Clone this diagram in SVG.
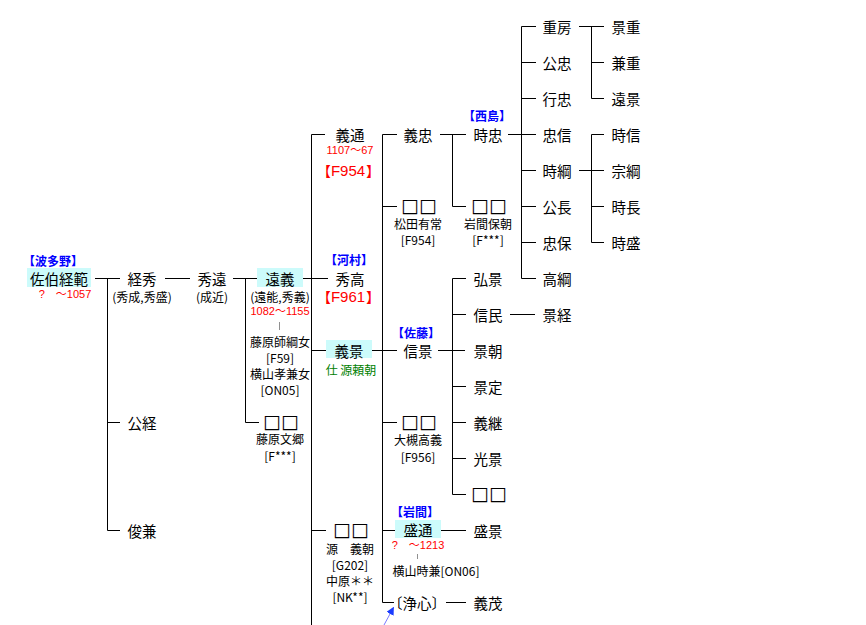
<svg xmlns="http://www.w3.org/2000/svg" width="866" height="625" viewBox="0 0 866 625">
<defs>
<style>
text{font-family:"Noto Sans CJK JP","DejaVu Sans",sans-serif;text-anchor:middle;dominant-baseline:central;fill:#000}
.n{font-size:14.5px}
.sq{font-size:19px;font-family:"DejaVu Sans",sans-serif}
.s{font-size:12px}
.y{font-size:11px;fill:#ff0000;font-family:"Liberation Sans","Noto Sans CJK JP",sans-serif}
.r{font-size:14px;fill:#ff0000}
.rl{font-size:15px;fill:#ff0000;font-family:"Liberation Sans",sans-serif}
.b{font-size:12px;fill:#0000ff;font-weight:bold}
.g{font-size:12px;fill:#008000}
.hl{fill:#ccfbfb}
.tick{stroke:#909090;stroke-width:1}
#conn path{fill:none;stroke:#000;stroke-width:1}
</style>
<marker id="ah" viewBox="0 0 10 10" refX="9" refY="5" markerWidth="8" markerHeight="8" markerUnits="userSpaceOnUse" orient="auto">
<path d="M0,0 L10,5 L0,10 Z" fill="#1a3cff"/>
</marker>
</defs>
<rect width="866" height="625" fill="#fff"/>
<g id="conn">
<path d="M95,278.5H120M107.5,278.5V530.5M107.5,422.5H120M107.5,530.5H120"/>
<path d="M165,278.5H190"/>
<path d="M233,278.5H257M245.5,278.5V422.5H259"/>
<path d="M303,278.5H328M311.5,134.5V625M311.5,134.5H325M311.5,350.5H326M311.5,530.5H326"/>
<path d="M382.5,134.5V602.5M382.5,134.5H397M382.5,206.5H397M372,350.5H397M382.5,422.5H397M382.5,530.5H395M382.5,602.5H394"/>
<path d="M440,134.5H466M452.5,134.5V206.5H466"/>
<path d="M438,350.5H465M452.5,278.5V494.5M452.5,278.5H466M452.5,314.5H466M452.5,386.5H466M452.5,422.5H466M452.5,458.5H466M452.5,494.5H466"/>
<path d="M441,530.5H466M446,602.5H466"/>
<path d="M510,314.5H535"/>
<path d="M508,134.5H536M521.5,26.5V278.5M521.5,26.5H536M521.5,62.5H536M521.5,98.5H536M521.5,170.5H536M521.5,206.5H536M521.5,242.5H536M521.5,278.5H536"/>
<path d="M579,26.5H604M591.5,26.5V98.5M591.5,62.5H604M591.5,98.5H604"/>
<path d="M579,170.5H604M591.5,134.5V242.5M591.5,134.5H604M591.5,206.5H604M591.5,242.5H604"/>
<path d="M384,625L393.5,607.5" style="stroke:#7a7aff" marker-end="url(#ah)"/>
</g>
<g id="n-tsunenori">
<rect class="hl" x="27" y="268" width="64" height="19"/>
<text class="b" x="53" y="260">【波多野】</text>
<text class="n" x="59" y="278">佐伯経範</text>
<text class="y" x="65" y="294">?　～1057</text>
</g>
<g id="n-tsunehide">
<text class="n" x="142" y="278">経秀</text>
<text class="s" x="142" y="296">(秀成,秀盛)</text>
</g>
<g id="n-hidetoo">
<text class="n" x="212" y="278">秀遠</text>
<text class="s" x="212" y="296">(成近)</text>
</g>
<g id="n-tooyoshi">
<rect class="hl" x="257" y="268" width="46" height="19"/>
<text class="n" x="280" y="278">遠義</text>
<text class="s" x="280" y="296">(遠能,秀義)</text>
<text class="y" x="280" y="311">1082～1155</text>
<line class="tick" x1="279.5" y1="322" x2="279.5" y2="330"/>
<text class="s" x="280" y="341">藤原師綱女</text>
<text class="s" x="280" y="357">[F59]</text>
<text class="s" x="280" y="373">横山孝兼女</text>
<text class="s" x="280" y="389">[ON05]</text>
</g>
<g id="n-unk-fujiwara">
<text class="sq" x="281" y="421">□□</text>
<text class="s" x="280" y="438">藤原文郷</text>
<text class="s" x="280" y="455">[F***]</text>
</g>
<g id="n-kimitsune"><text class="n" x="142" y="422">公経</text></g>
<g id="n-toshikane"><text class="n" x="142" y="530">俊兼</text></g>
<g id="n-yoshimichi">
<text class="n" x="350" y="134">義通</text>
<text class="y" x="350" y="150">1107～67</text>
<text class="r" x="331" y="170" style="text-anchor:end">【</text>
<text class="rl" x="348" y="170">F954</text>
<text class="r" x="366" y="170" style="text-anchor:start">】</text>
</g>
<g id="n-hidetaka">
<text class="b" x="349" y="259">【河村】</text>
<text class="n" x="350" y="278">秀高</text>
<text class="r" x="331" y="296" style="text-anchor:end">【</text>
<text class="rl" x="348" y="296">F961</text>
<text class="r" x="366" y="296" style="text-anchor:start">】</text>
</g>
<g id="n-yoshikage">
<rect class="hl" x="326" y="340" width="46" height="18"/>
<text class="n" x="349" y="350">義景</text>
<text class="g" x="351" y="369">仕 源頼朝</text>
</g>
<g id="n-unk-yoshitomo">
<text class="sq" x="351" y="529">□□</text>
<text class="s" x="350" y="548">源　義朝</text>
<text class="s" x="350" y="564">[G202]</text>
<text class="s" x="350" y="580">中原＊＊</text>
<text class="s" x="350" y="596">[NK**]</text>
</g>
<g id="n-yoshitada"><text class="n" x="418" y="134">義忠</text></g>
<g id="n-unk-matsuda">
<text class="sq" x="419" y="205">□□</text>
<text class="s" x="418" y="223">松田有常</text>
<text class="s" x="418" y="239">[F954]</text>
</g>
<g id="n-nobukage">
<text class="b" x="416" y="332">【佐藤】</text>
<text class="n" x="418" y="350">信景</text>
</g>
<g id="n-unk-ootsuki">
<text class="sq" x="419" y="421">□□</text>
<text class="s" x="418" y="439">大槻高義</text>
<text class="s" x="418" y="456">[F956]</text>
</g>
<g id="n-moritoo">
<text class="b" x="415" y="511">【岩間】</text>
<rect class="hl" x="395" y="520" width="46" height="18"/>
<text class="n" x="418" y="529">盛通</text>
<text class="y" x="418" y="545">?　～1213</text>
<line class="tick" x1="417.5" y1="554" x2="417.5" y2="559"/>
<text class="s" x="436" y="570">横山時兼[ON06]</text>
</g>
<g id="n-joshin"><text class="n" x="417" y="602">〔浄心〕</text></g>
<g id="n-tokitada">
<text class="b" x="487" y="115">【西島】</text>
<text class="n" x="488" y="134">時忠</text>
</g>
<g id="n-unk-iwama">
<text class="sq" x="489" y="205">□□</text>
<text class="s" x="488" y="223">岩間保朝</text>
<text class="s" x="488" y="239">[F***]</text>
</g>
<g id="n-hirokage"><text class="n" x="488" y="278">弘景</text></g>
<g id="n-nobutami"><text class="n" x="488" y="314">信民</text></g>
<g id="n-kagetomo"><text class="n" x="488" y="350">景朝</text></g>
<g id="n-kagesada"><text class="n" x="488" y="386">景定</text></g>
<g id="n-yoshitsugu"><text class="n" x="488" y="422">義継</text></g>
<g id="n-mitsukage"><text class="n" x="488" y="458">光景</text></g>
<g id="n-unk-sato"><text class="sq" x="489" y="493">□□</text></g>
<g id="n-morikage"><text class="n" x="488" y="530">盛景</text></g>
<g id="n-yoshishige"><text class="n" x="488" y="602">義茂</text></g>
<g id="n-kagetsune"><text class="n" x="557" y="314">景経</text></g>
<g id="n-shigefusa"><text class="n" x="557" y="26">重房</text></g>
<g id="n-kimitada"><text class="n" x="557" y="62">公忠</text></g>
<g id="n-yukitada"><text class="n" x="557" y="98">行忠</text></g>
<g id="n-tadanobu"><text class="n" x="557" y="134">忠信</text></g>
<g id="n-tokitsuna"><text class="n" x="557" y="170">時綱</text></g>
<g id="n-kiminaga"><text class="n" x="557" y="206">公長</text></g>
<g id="n-tadayasu"><text class="n" x="557" y="242">忠保</text></g>
<g id="n-takatsuna"><text class="n" x="557" y="278">高綱</text></g>
<g id="n-kageshige"><text class="n" x="626" y="26">景重</text></g>
<g id="n-kaneshige"><text class="n" x="626" y="62">兼重</text></g>
<g id="n-tookage"><text class="n" x="626" y="98">遠景</text></g>
<g id="n-tokinobu"><text class="n" x="626" y="134">時信</text></g>
<g id="n-munetsuna"><text class="n" x="626" y="170">宗綱</text></g>
<g id="n-tokinaga"><text class="n" x="626" y="206">時長</text></g>
<g id="n-tokimori"><text class="n" x="626" y="242">時盛</text></g>
</svg>
